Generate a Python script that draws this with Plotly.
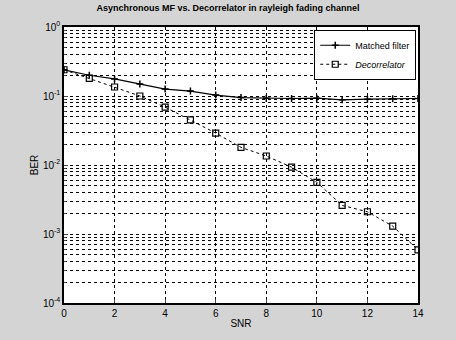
import plotly.graph_objects as go

snr = list(range(0, 15))
mf_ber = [0.24, 0.20, 0.177, 0.149, 0.126, 0.118, 0.103, 0.095, 0.093, 0.092, 0.093, 0.088, 0.090, 0.091, 0.092]
dec_ber = [0.24, 0.18, 0.135, 0.100, 0.069, 0.045, 0.029, 0.018, 0.0135, 0.0093, 0.0056, 0.0026, 0.0021, 0.0013, 0.00059]
x_ticks = [0, 2, 4, 6, 8, 10, 12, 14]
y_ticks = [1e-4, 1e-3, 1e-2, 1e-1, 1]
y_tick_text = ["10<sup>-4</sup>", "10<sup>-3</sup>", "10<sup>-2</sup>", "10<sup>-1</sup>", "10<sup>0</sup>"]

fig = go.Figure()
fig.add_trace(go.Scatter(
    x=snr, y=mf_ber, name="Matched filter", mode="lines+markers",
    line=dict(color="black", width=1.2),
    marker=dict(symbol="cross-thin", size=5, color="black", line=dict(color="black", width=1.5)),
))
fig.add_trace(go.Scatter(
    x=snr, y=dec_ber, name="<i>Decorrelator</i>", mode="lines+markers",
    line=dict(color="black", width=1, dash="dot"),
    marker=dict(symbol="square-open", size=6, color="black", line=dict(color="black", width=1.2)),
))

fig.update_layout(
    width=456, height=340,
    margin=dict(l=64, r=38, t=27, b=37),
    paper_bgcolor="#d4d4d4",
    plot_bgcolor="white",
    font=dict(family="Liberation Sans, Arial", size=10, color="black"),
    title=dict(text="<b>Asynchronous MF vs. Decorrelator in rayleigh fading channel</b>",
               x=0.5, xanchor="center", y=0.985, yanchor="top", font=dict(size=9)),
    showlegend=True,
    legend=dict(x=0.995, y=0.99, xanchor="right", yanchor="top",
                bgcolor="white", bordercolor="black", borderwidth=1,
                font=dict(size=9), tracegroupgap=0, itemwidth=30),
)
fig.update_xaxes(
    range=[0, 14], tickvals=x_ticks, ticks="inside", ticklen=4,
    showline=True, linecolor="black", linewidth=1.5, mirror=True,
    showgrid=True, gridcolor="black", griddash="dot", gridwidth=1,
    zeroline=False,
    title=dict(text="SNR", standoff=2, font=dict(size=10)),
    tickfont=dict(size=10),
)
fig.update_yaxes(
    type="log", range=[-4, 0], tickvals=y_ticks, ticktext=y_tick_text,
    ticks="inside", ticklen=4,
    showline=True, linecolor="black", linewidth=1.5, mirror=True,
    showgrid=True, gridcolor="black", griddash="dot", gridwidth=1,
    minor=dict(showgrid=True, gridcolor="black", griddash="dot", gridwidth=1,
               dtick="D1", ticks="inside", ticklen=2),
    zeroline=False,
    title=dict(text="BER", standoff=2, font=dict(size=10)),
    tickfont=dict(size=10),
)

fig.write_html("out.html")
